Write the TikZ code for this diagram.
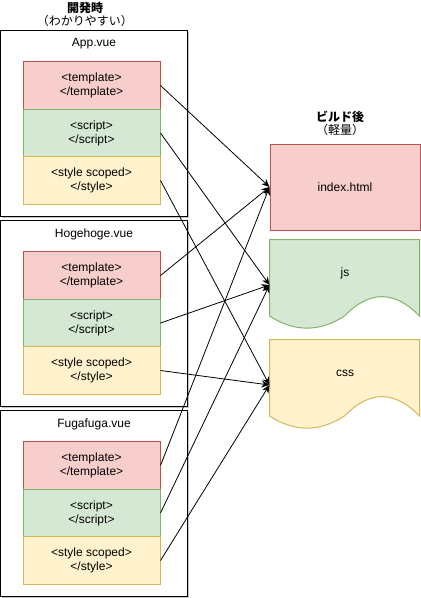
\documentclass[tikz,border=0pt]{standalone}
\usepackage{fontspec}
\setmainfont{Liberation Sans}
\newfontfamily\jpfont{Noto Sans CJK JP}
\usetikzlibrary{arrows.meta,backgrounds,shadows}

\definecolor{redfill}{HTML}{F8CECC}
\definecolor{redline}{HTML}{B85450}
\definecolor{greenfill}{HTML}{D5E8D4}
\definecolor{greenline}{HTML}{82B366}
\definecolor{yellowfill}{HTML}{FFF2CC}
\definecolor{yellowline}{HTML}{D6B656}

\tikzset{
  every node/.style={font=\fontsize{12}{14}\selectfont},
  filebox/.style={draw=black, fill=white, line width=1pt, inner sep=0pt,
    minimum width=187pt, minimum height=186pt,
    drop shadow={shadow xshift=1.5pt, shadow yshift=-1.5pt, opacity=0.45, fill=gray}},
  part/.style={line width=1pt, inner sep=0pt, align=center,
    minimum width=137pt, minimum height=47.5pt},
  tmplbox/.style={part, draw=redline, fill=redfill},
  scriptbox/.style={part, draw=greenline, fill=greenfill},
  stylebox/.style={part, draw=yellowline, fill=yellowfill},
  outbox/.style={line width=1pt, inner sep=0pt, minimum width=150pt},
  headline/.style={font=\jpfont\bfseries\fontsize{12}{14}\selectfont},
  subline/.style={font=\jpfont\fontsize{12}{14}\selectfont},
  link/.style={line width=0.8pt, -{Stealth[length=8pt,width=7pt]}}
}

\begin{document}
\begin{tikzpicture}[x=1pt,y=-1pt]
\useasboundingbox (0,0) rectangle (421,598);

% titles
\node[headline] (devtitle) at (85,8) {開発時};
\node[subline] (devsub) at (85,21) {（わかりやすい）};
\node[headline] (buildtitle) at (340,117) {ビルド後};
\node[subline] (buildsub) at (340,130) {（軽量）};

% .vue files
\foreach \f/\top/\name in {app/30/App.vue, hoge/220/Hogehoge.vue, fuga/410/Fugafuga.vue}{
  \node[filebox] (\f) at (94,\top+93) {};
  \node (\f-name) at (94,\top+14) {\name};
  \node[tmplbox] (\f-tmpl) at (91.5,\top+55.5) {<template>\\</template>};
  \node[scriptbox] (\f-script) at (91.5,\top+103) {<script>\\</script>};
  \node[stylebox] (\f-style) at (91.5,\top+150.5) {<style scoped>\\</style>};
}

% build output
\node[outbox, draw=redline, fill=redfill, minimum height=86pt] (index) at (345,187) {index.html};
\node[outbox, minimum height=90pt, label={[yshift=12pt]center:js}] (js) at (345,285) {};
\node[outbox, minimum height=90pt, label={[yshift=12pt]center:css}] (css) at (345,385) {};
\foreach \n/\c in {js/green, css/yellow}{
  \begin{scope}[on background layer, shift={(\n.north west)}]
    \filldraw[line width=1pt, fill=\c fill, draw=\c line] (0,0) -- (150,0) -- (150,76.5)
      .. controls (125,50.7) and (100,50.7) .. (75,76.5)
      .. controls (50,92.7) and (25,92.7) .. (0,76.5) -- cycle;
  \end{scope}
}

% links
\foreach \f in {app,hoge,fuga}{
  \draw[link] (\f-tmpl.east) -- (index.west);
  \draw[link] (\f-script.east) -- (js.west);
  \draw[link] (\f-style.east) -- (css.west);
}
\end{tikzpicture}
\end{document}
